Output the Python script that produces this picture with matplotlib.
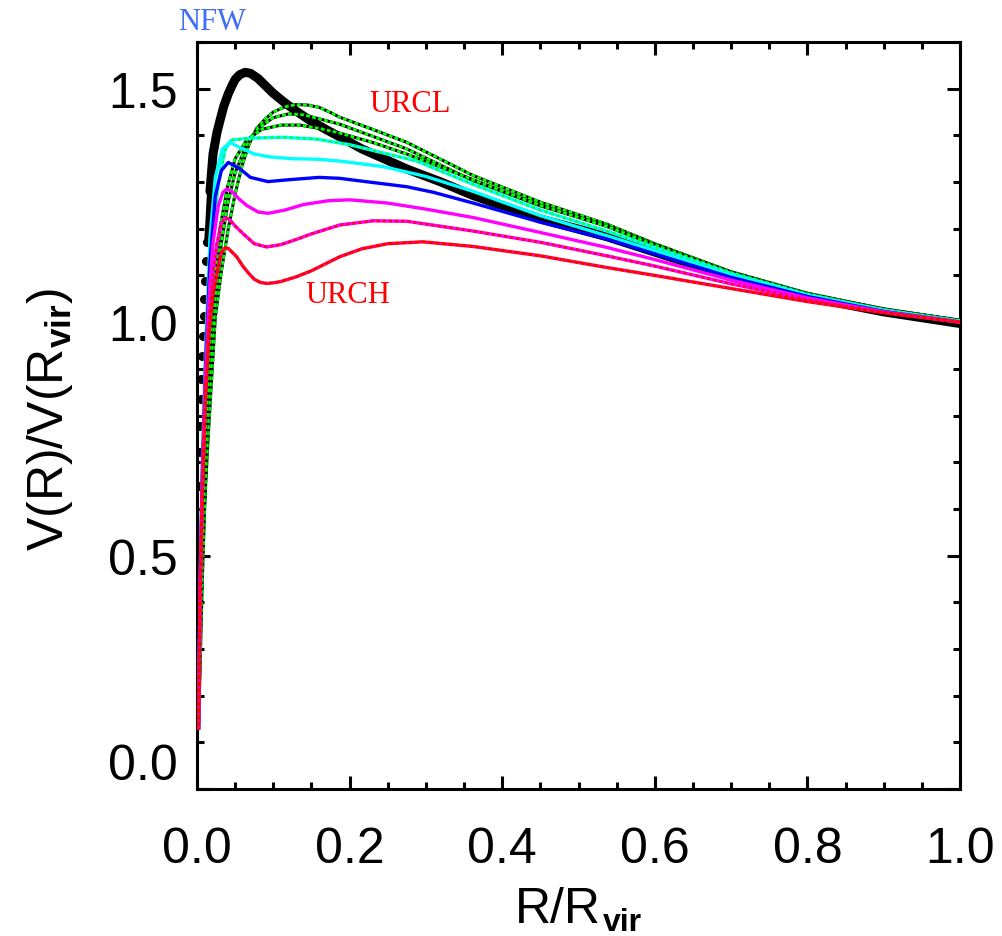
import numpy as np
import matplotlib.pyplot as plt

plt.rcParams['font.family'] = ['Liberation Sans', 'DejaVu Sans']
plt.rcParams['mathtext.fontset'] = 'custom'
plt.rcParams['mathtext.rm'] = 'Liberation Sans'
plt.rcParams['mathtext.bf'] = 'Liberation Sans:bold'

# curves: R/Rvir and V(R)/V(Rvir)
# NFW: dots on the steep inner part, thick band after it
nfw_dot_x = [0.0022, 0.0025, 0.0032, 0.0039, 0.0044, 0.005, 0.0057, 0.0065, 0.0074, 0.0086,
             0.0097, 0.0105, 0.0118, 0.0132]
nfw_dot_y = [0.435, 0.52, 0.649, 0.722, 0.777, 0.835, 0.878, 0.927, 0.970, 1.013,
             1.049, 1.088, 1.131, 1.172]
nfw_x = [0.0132, 0.0145, 0.017, 0.021, 0.026, 0.030, 0.035, 0.041, 0.046, 0.050, 0.056, 0.063,
         0.07, 0.08, 0.09, 0.10, 0.115, 0.13, 0.15, 0.172, 0.195, 0.216, 0.245, 0.275, 0.32,
         0.362, 0.45, 0.537, 0.6, 0.7, 0.8, 0.9, 1.0]
nfw_y = [1.172, 1.206, 1.28, 1.36, 1.405, 1.431, 1.462, 1.489, 1.507, 1.52, 1.530, 1.535,
         1.533, 1.522, 1.506, 1.490, 1.470, 1.452, 1.430, 1.410, 1.39, 1.371, 1.35, 1.328, 1.30,
         1.271, 1.221, 1.183, 1.150, 1.097, 1.054, 1.022, 0.997]

g1_x = [0.002, 0.004, 0.008, 0.015, 0.024, 0.032, 0.041, 0.050, 0.059, 0.068, 0.078, 0.09,
        0.10, 0.115, 0.13, 0.145, 0.16, 0.175, 0.187, 0.23, 0.275, 0.362, 0.45, 0.537,
        0.6, 0.7, 0.8, 0.9, 1.0]
g1_y = [0.13, 0.336, 0.55, 0.764, 1.01, 1.11, 1.20, 1.275, 1.335, 1.38, 1.415, 1.436,
        1.450, 1.461, 1.466, 1.465, 1.460, 1.449, 1.439, 1.413, 1.385, 1.314, 1.257, 1.210,
        1.168, 1.108, 1.062, 1.028, 1.004]

g2_x = [0.002, 0.007, 0.012, 0.017, 0.024, 0.032, 0.041, 0.050, 0.065, 0.08, 0.10, 0.12, 0.14,
        0.187, 0.275, 0.362, 0.45, 0.537, 0.6, 0.7, 0.8, 0.9, 1.0]
g2_y = [0.13, 0.45, 0.70, 0.88, 1.05, 1.17, 1.26, 1.32, 1.38, 1.415, 1.438, 1.446, 1.444,
        1.424, 1.371, 1.303, 1.249, 1.207, 1.166, 1.107, 1.061, 1.027, 1.004]

g3_x = [0.002, 0.006, 0.010, 0.015, 0.022, 0.030, 0.040, 0.050, 0.065, 0.085, 0.11, 0.135, 0.16,
        0.187, 0.23, 0.275, 0.362, 0.45, 0.537, 0.6, 0.7, 0.8, 0.9, 1.0]
g3_y = [0.13, 0.45, 0.70, 0.90, 1.08, 1.20, 1.29, 1.35, 1.39, 1.413, 1.422, 1.422, 1.415,
        1.405, 1.385, 1.36, 1.305, 1.25, 1.205, 1.165, 1.106, 1.060, 1.027, 1.003]

g4_x = [0.002, 0.005, 0.009, 0.014, 0.020, 0.028, 0.037, 0.045, 0.07, 0.113, 0.157, 0.20,
        0.25, 0.288, 0.362, 0.45, 0.537, 0.6, 0.7, 0.8, 0.9, 1.0]
g4_y = [0.13, 0.48, 0.78, 1.0, 1.17, 1.30, 1.37, 1.39, 1.394, 1.396, 1.392, 1.38,
        1.36, 1.345, 1.295, 1.24, 1.195, 1.160, 1.104, 1.059, 1.026, 1.002]

c5_x = [0.002, 0.004, 0.007, 0.011, 0.017, 0.024, 0.033, 0.043, 0.055, 0.075, 0.095, 0.125,
        0.157, 0.187, 0.244, 0.30, 0.362, 0.45, 0.537, 0.6, 0.7, 0.8, 0.9, 1.0]
c5_y = [0.13, 0.45, 0.70, 0.93, 1.18, 1.31, 1.37, 1.385, 1.375, 1.36, 1.354, 1.350,
        1.349, 1.345, 1.333, 1.312, 1.28, 1.228, 1.185, 1.153, 1.100, 1.057, 1.024, 1.0]

b6_x = [0.002, 0.004, 0.007, 0.011, 0.017, 0.024, 0.032, 0.041, 0.055, 0.07, 0.093, 0.12,
        0.16, 0.187, 0.216, 0.275, 0.31, 0.362, 0.45, 0.537, 0.6, 0.7, 0.8, 0.9, 1.0]
b6_y = [0.13, 0.44, 0.68, 0.90, 1.13, 1.27, 1.325, 1.342, 1.33, 1.31, 1.301, 1.305,
        1.310, 1.308, 1.302, 1.290, 1.278, 1.255, 1.214, 1.178, 1.146, 1.096, 1.055, 1.023, 1.0]

m7_x = [0.002, 0.004, 0.007, 0.011, 0.016, 0.021, 0.028, 0.034, 0.039, 0.045, 0.055, 0.065,
        0.08, 0.093, 0.115, 0.14, 0.172, 0.20, 0.25, 0.30, 0.362, 0.45, 0.537, 0.6, 0.7, 0.8,
        0.9, 1.0]
m7_y = [0.13, 0.43, 0.66, 0.88, 1.06, 1.17, 1.25, 1.278, 1.285, 1.281, 1.264, 1.25,
        1.236, 1.233, 1.240, 1.252, 1.260, 1.262, 1.255, 1.242, 1.224, 1.192, 1.160, 1.134,
        1.090, 1.052, 1.022, 1.0]

m8_x = [0.002, 0.004, 0.007, 0.011, 0.016, 0.021, 0.026, 0.032, 0.037, 0.042, 0.05, 0.06,
        0.075, 0.091, 0.11, 0.13, 0.15, 0.187, 0.231, 0.275, 0.362, 0.45, 0.537, 0.6, 0.7,
        0.8, 0.9, 1.0]
m8_y = [0.13, 0.42, 0.64, 0.86, 1.02, 1.11, 1.167, 1.212, 1.223, 1.221, 1.206, 1.19,
        1.168, 1.161, 1.166, 1.177, 1.189, 1.208, 1.217, 1.216, 1.195, 1.171, 1.142, 1.120,
        1.082, 1.048, 1.021, 1.0]

r9_x = [0.002, 0.004, 0.007, 0.011, 0.016, 0.021, 0.028, 0.032, 0.037, 0.041, 0.052, 0.06,
        0.068, 0.075, 0.083, 0.091, 0.10, 0.11, 0.13, 0.15, 0.187, 0.216, 0.25, 0.296, 0.362,
        0.45, 0.537, 0.6, 0.7, 0.8, 0.9, 1.0]
r9_y = [0.13, 0.40, 0.62, 0.83, 0.98, 1.06, 1.12, 1.150, 1.159, 1.158, 1.14, 1.12,
        1.104, 1.092, 1.085, 1.083, 1.084, 1.087, 1.097, 1.110, 1.140, 1.157, 1.168, 1.172,
        1.162, 1.142, 1.117, 1.100, 1.072, 1.044, 1.020, 1.0]

xticks = [0.0, 0.2, 0.4, 0.6, 0.8, 1.0]
yticks = [0.0, 0.5, 1.0, 1.5]

fig = plt.figure(figsize=(10.02, 9.37), dpi=100)
ax = fig.add_axes([197 / 1002, 1 - 790 / 937, 763 / 1002, 747 / 937])

# NFW, thick black; thinner lead-in where the dots join the band
ax.plot(nfw_dot_x, nfw_dot_y, 'o', color='black', ms=5.5, zorder=2)
ax.plot(nfw_x[:4], nfw_y[:4], color='black', lw=4.2, solid_capstyle='round', zorder=2)
ax.plot(nfw_x[2:], nfw_y[2:], color='black', lw=6.5, solid_capstyle='round',
        solid_joinstyle='round', zorder=2)

# green family: black line with green dots on top
for cx, cy in [(g1_x, g1_y), (g2_x, g2_y), (g3_x, g3_y)]:
    ax.plot(cx, cy, color='black', lw=2.2, zorder=3)
    ax.plot(cx, cy, color='#00ff00', lw=2.0, ls=(0, (1.4, 0.8)), zorder=3)
ax.plot(g4_x, g4_y, color='#00ffff', lw=2.4, zorder=3)
ax.plot(g4_x, g4_y, color='#00ff40', lw=1.8, ls=(0, (1.2, 1.4)), zorder=3)

ax.plot(c5_x, c5_y, color='#00ffff', lw=2.4, zorder=4)
ax.plot(b6_x, b6_y, color='#0000ff', lw=2.4, zorder=4)
ax.plot(m7_x, m7_y, color='#ff00ff', lw=2.4, zorder=4)
ax.plot(m8_x, m8_y, color='#ff00ff', lw=2.4, zorder=4)
ax.plot(m8_x, m8_y, color='#ff0040', lw=2.0, ls=(0, (1.2, 1.0)), zorder=4)
ax.plot(r9_x, r9_y, color='#ff0000', lw=2.4, zorder=4)
ax.plot(r9_x, r9_y, color='#ff00a0', lw=1.6, ls=(0, (1.0, 2.0)), zorder=4)

ax.set_xlim(0, 1)
ax.set_ylim(0, 1.6)
ax.set_xticks(xticks)
ax.set_xticklabels(['%.1f' % v for v in xticks])
ax.set_yticks(yticks)
ax.set_yticklabels(['%.1f' % v for v in yticks])
ax.set_xticks(np.arange(0, 1.0001, 0.05), minor=True)
ax.set_yticks(np.arange(0, 1.6001, 0.1), minor=True)
ax.tick_params(which='both', direction='in', top=True, right=True, width=2.2, color='black')
ax.tick_params(which='major', length=9.5)
ax.tick_params(which='minor', length=5)
ax.tick_params(axis='x', which='major', labelsize=36, pad=27)
ax.tick_params(axis='y', which='major', labelsize=36, pad=14)
ax.get_yticklabels()[0].set_va('bottom')
for s in ax.spines.values():
    s.set_linewidth(2.2)

# x axis title: main part plus a small bold subscript placed after it
xt = fig.text(515 / 1002, 1 - 923 / 937, 'R/R', fontsize=36, ha='left', va='baseline')
renderer = fig.canvas.get_renderer()
bb = xt.get_window_extent(renderer)
fig.text((bb.x1 + 2) / 1002, 1 - 931 / 937, 'vir', fontsize=23, fontweight='bold',
         ha='left', va='baseline')

fig.text(63 / 1002, 1 - 420 / 937, r'V(R)/V(R$_{\mathbf{vir}}$)', fontsize=36,
         ha='center', va='baseline', rotation=90, rotation_mode='anchor')

fig.text(212 / 1002, 1 - 23 / 937, 'NFW', fontsize=22, color='#3f6ff5',
         family='Liberation Serif', ha='center', va='center')
ax.text(0.279, 1.469, 'URCL', fontsize=22, color='#ff0000',
        family='Liberation Serif', ha='center', va='center')
ax.text(0.198, 1.060, 'URCH', fontsize=22, color='#ff0000',
        family='Liberation Serif', ha='center', va='center')

fig.savefig('out.png', dpi=100)
